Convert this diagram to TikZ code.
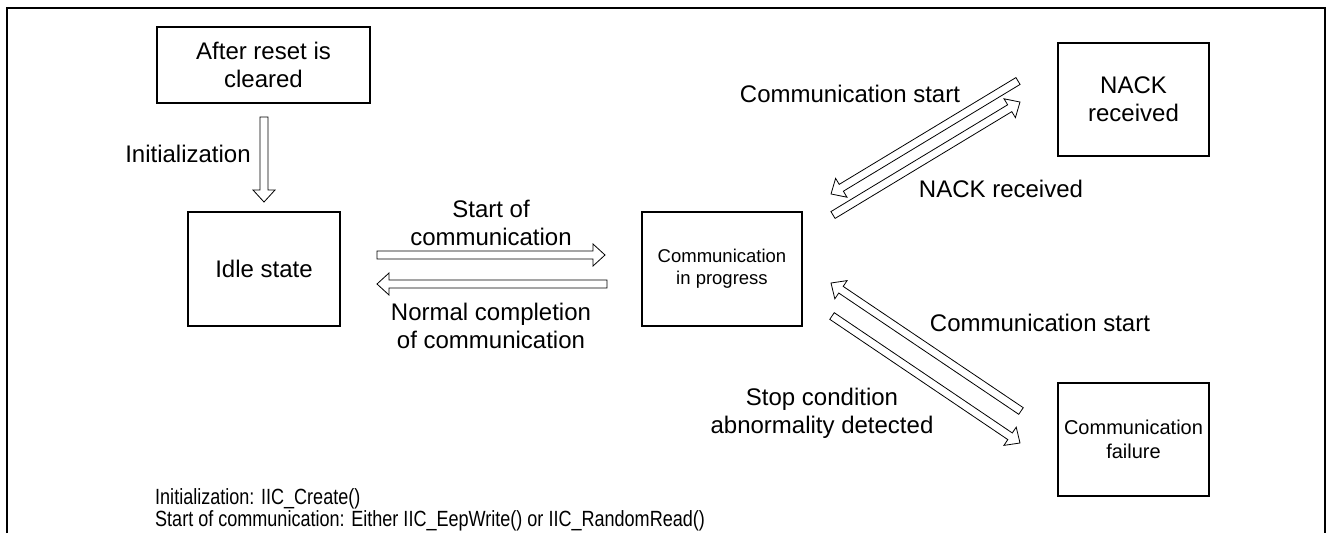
\documentclass[tikz,border=0pt]{standalone}
\usepackage{fontspec}
\setmainfont{Liberation Sans}
\usetikzlibrary{calc}
\begin{document}
\begin{tikzpicture}[x=1pt,y=-1pt,
  box/.style={draw, line width=1.2pt, inner sep=0pt, align=center,
    font=\fontsize{24}{28}\selectfont},
  lbl/.style={inner sep=0pt, align=center, font=\fontsize{24}{27.6}\selectfont},
  hollow/.style={draw, line width=0.8pt, line join=miter,
    to path={let \p1=(\tikztostart), \p2=(\tikztotarget),
      \n1={atan2(\y2-\y1,\x2-\x1)}, \n2={veclen(\x2-\x1,\y2-\y1)} in
      ([shift={(\p1)},rotate=\n1]0pt,4pt)
      -- ([shift={(\p1)},rotate=\n1]\n2-12pt,4pt)
      -- ([shift={(\p1)},rotate=\n1]\n2-12pt,11pt)
      -- ([shift={(\p1)},rotate=\n1]\n2,0pt)
      -- ([shift={(\p1)},rotate=\n1]\n2-12pt,-11pt)
      -- ([shift={(\p1)},rotate=\n1]\n2-12pt,-4pt)
      -- ([shift={(\p1)},rotate=\n1]0pt,-4pt) -- cycle}},
]
\useasboundingbox (0,0) rectangle (1328,533);
% frame
\draw[line width=2pt, line join=miter] (7,533) -- (7,8) -- (1325,8) -- (1325,533);

% states
\node[box, minimum width=213pt, minimum height=76pt] (reset) at (263.5,65) {After reset is\\cleared};
\node[box, minimum width=152pt, minimum height=114pt] (idle) at (264,269) {Idle state};
\node[box, minimum width=160pt, minimum height=114pt, font=\fontsize{18.5}{22}\selectfont] (comm) at (722,269) {Communication\\in progress};
\node[box, minimum width=151pt, minimum height=113pt] (nack) at (1133.5,99.5) {NACK\\received};
\node[box, minimum width=151pt, minimum height=113pt, font=\fontsize{20}{24}\selectfont] (fail) at (1133.5,439.5) {Communication\\failure};

% arrow end points
\coordinate (i1) at (264,117);  \coordinate (i2) at (264,202);
\coordinate (sc1) at (377,255); \coordinate (sc2) at (605,255);
\coordinate (nc1) at (607,284); \coordinate (nc2) at (377,284);
\coordinate (cs1) at (1018,81); \coordinate (cs2) at (831,194);
\coordinate (nk1) at (833,215); \coordinate (nk2) at (1020,102);
\coordinate (cs3) at (1021,411); \coordinate (cs4) at (831,283);
\coordinate (sp1) at (832,316); \coordinate (sp2) at (1020,443);

% hollow arrows
\draw[hollow] (i1) to (i2);
\draw[hollow] (sc1) to (sc2);
\draw[hollow] (nc1) to (nc2);
\draw[hollow] (cs1) to (cs2);
\draw[hollow] (nk1) to (nk2);
\draw[hollow] (cs3) to (cs4);
\draw[hollow] (sp1) to (sp2);

% labels
\node[lbl] (linit) at (188,154) {Initialization};
\node[lbl] (lstart) at (491,223) {Start of\\communication};
\node[lbl] (lnorm) at (491,326) {Normal completion\\of communication};
\node[lbl] (lcs1) at (850,94) {Communication start};
\node[lbl] (lnack) at (1001,189) {NACK received};
\node[lbl] (lcs2) at (1040,323) {Communication start};
\node[lbl] (lstop) at (822,413) {Stop condition\\abnormality detected};

% note
\node[anchor=north west, inner sep=0pt, font=\fontsize{22}{22.5}\selectfont] (note) at (155,488)
  {\scalebox{0.82}[1]{\begin{tabular}{@{}l@{}}Initialization: IIC\_Create()\\Start of communication: Either IIC\_EepWrite() or IIC\_RandomRead()\end{tabular}}};
\end{tikzpicture}
\end{document}
